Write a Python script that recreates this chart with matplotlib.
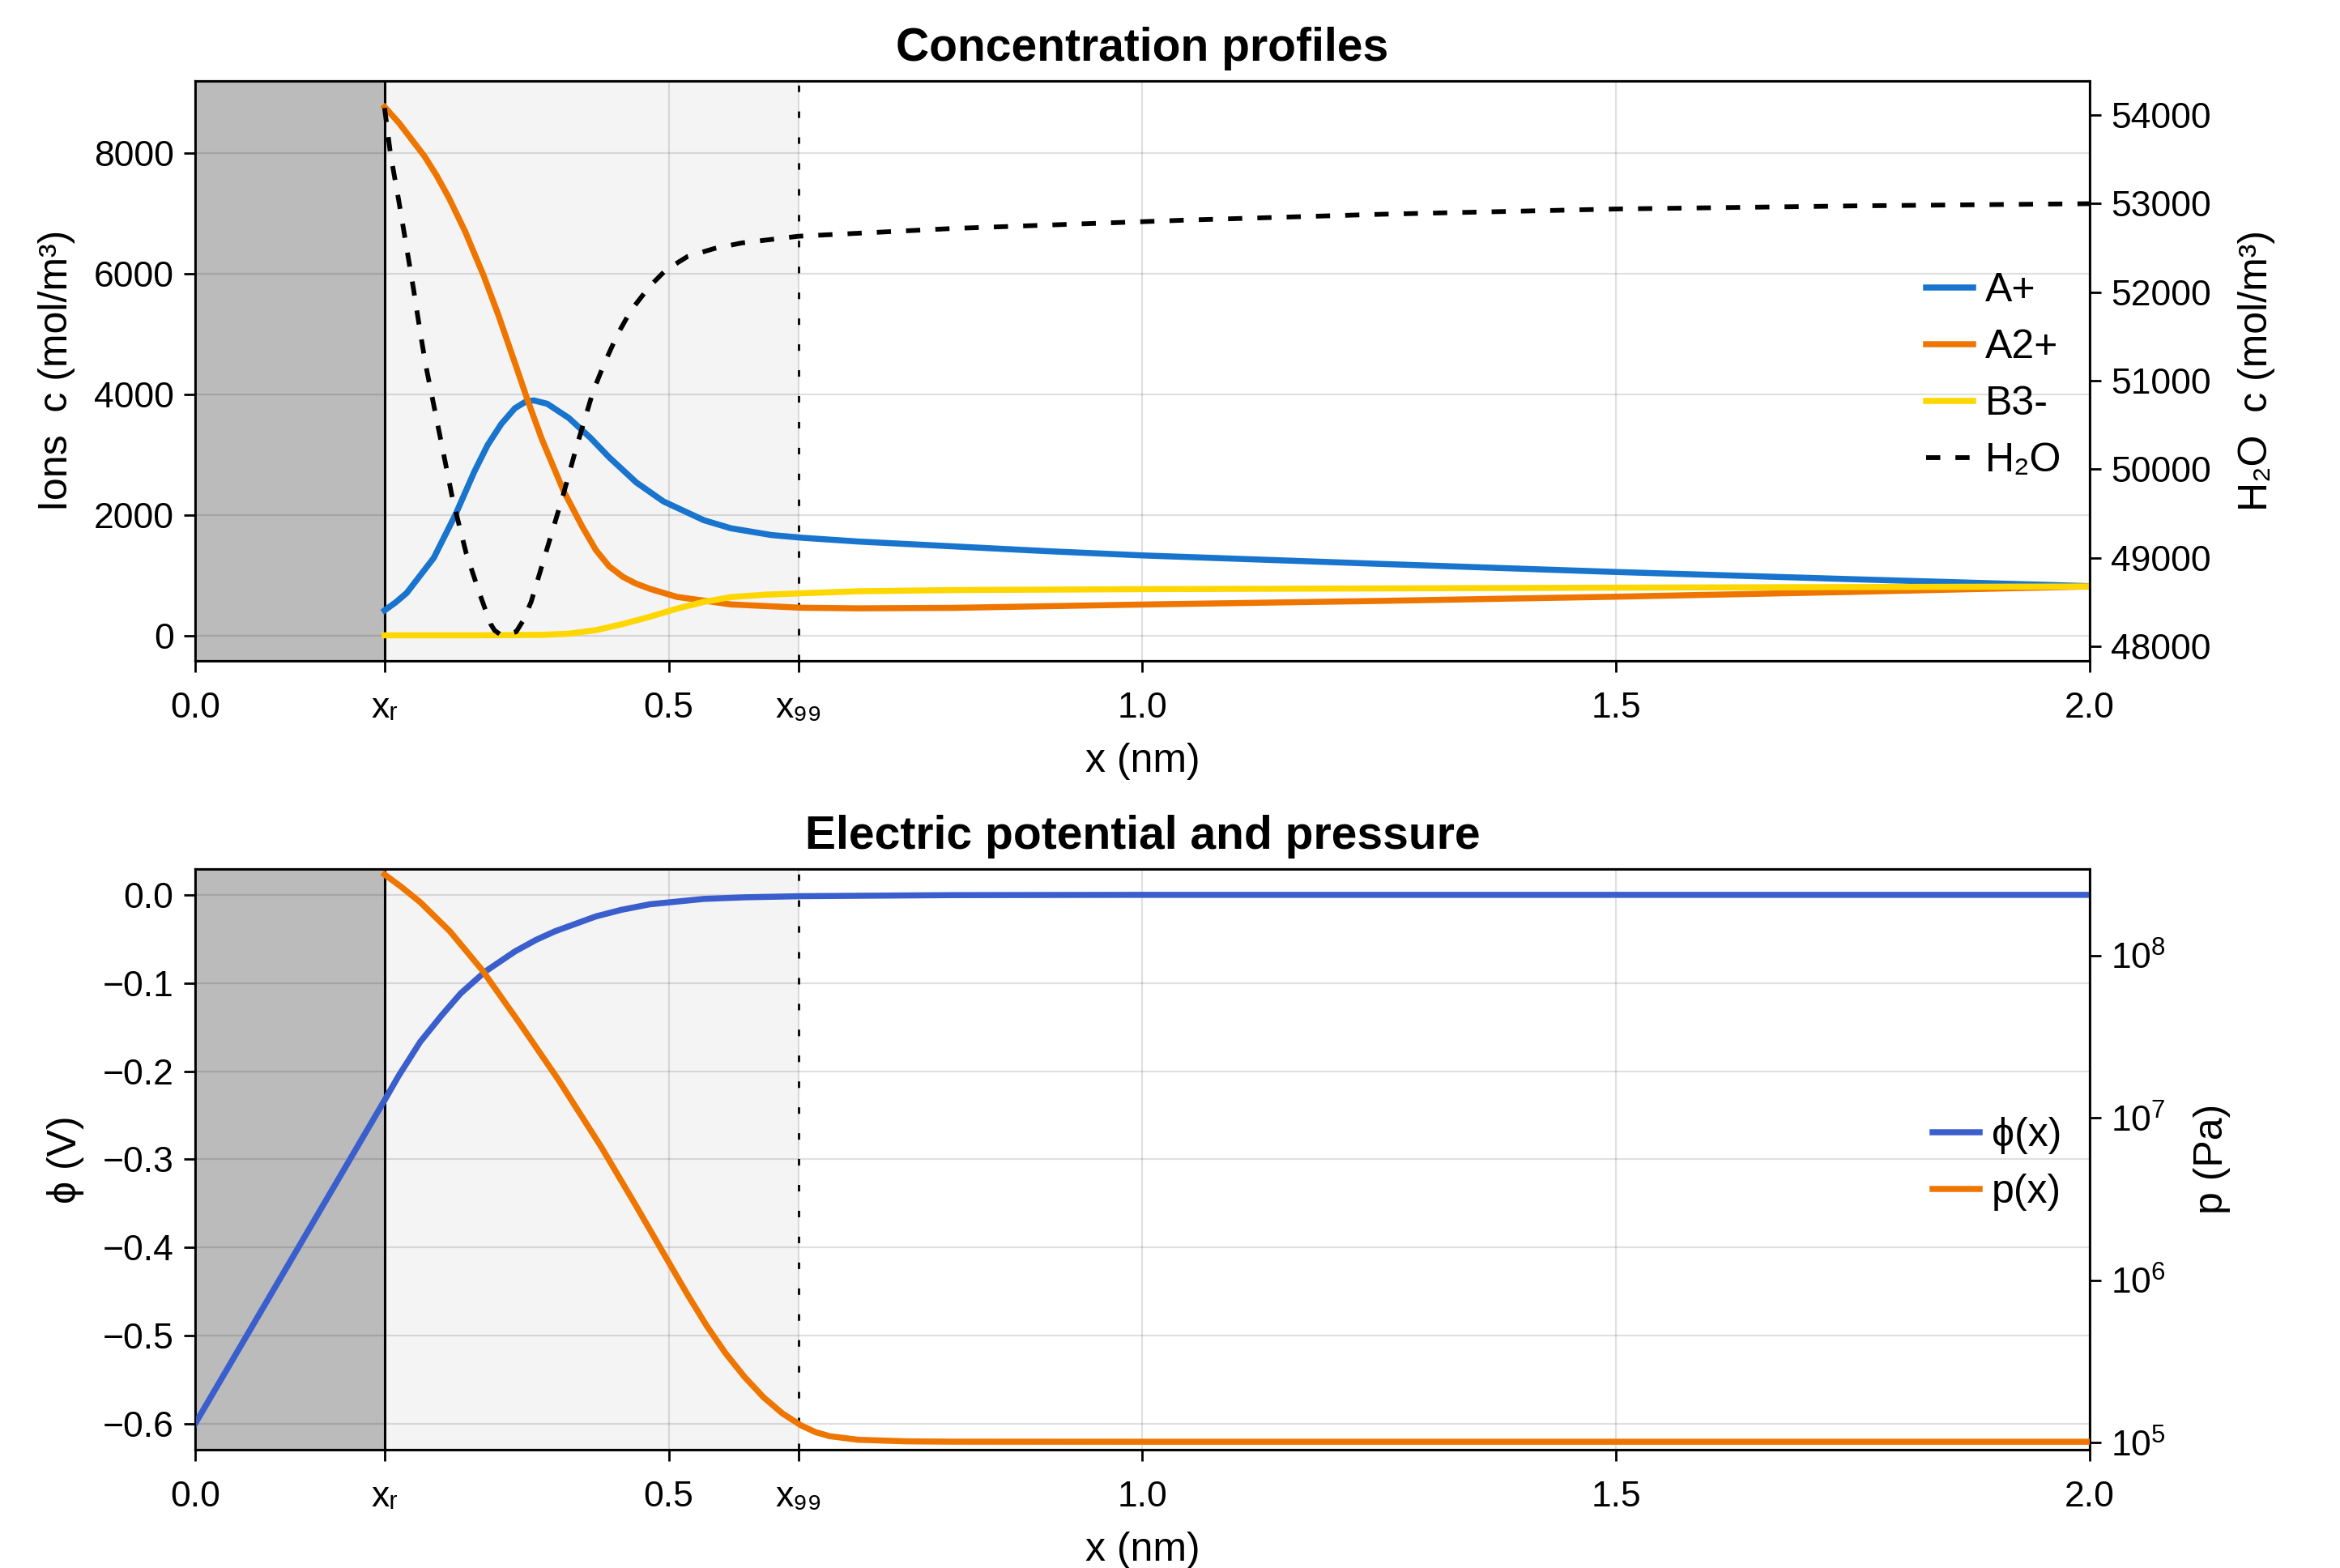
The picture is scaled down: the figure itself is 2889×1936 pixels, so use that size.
#!/usr/bin/env python

"""
    plot.py:
        - concentration profiles + electric potential / pressure near an electrode
"""

import matplotlib
matplotlib.use("Agg")
import matplotlib.pyplot as plt
from matplotlib.ticker import FixedLocator, NullLocator

plt.rcParams["font.family"] = ["Liberation Sans", "DejaVu Sans"]
plt.rcParams["mathtext.default"] = "regular"
plt.rcParams["axes.unicode_minus"] = True

################################################################################
# Data
################################################################################
x_r  = 0.2    # nm, Stern layer edge
x_99 = 0.637  # nm

x_tick_vals   = [0.0, x_r, 0.5, x_99, 1.0, 1.5, 2.0]
x_tick_labels = ["0.0", "x\u1d63", "0.5", "x\u2089\u2089", "1.0", "1.5", "2.0"]

# A+ (mol/m3)
x_Ap = [0.2, 0.212, 0.2234, 0.2519, 0.2747, 0.2947, 0.3089, 0.3232, 0.3375, 0.3489, 0.3574,
        0.3717, 0.3944, 0.4173, 0.4372, 0.4658, 0.4943, 0.537, 0.5655, 0.6083, 0.6397,
        0.7, 0.8, 0.9, 1.0, 1.25, 1.5, 1.75, 2.0]
c_Ap = [418, 555, 708, 1289, 2003, 2718, 3164, 3510, 3770, 3880, 3901,
        3845, 3610, 3280, 2955, 2539, 2226, 1914, 1780, 1668, 1624,
        1560, 1480, 1400, 1330, 1190, 1055, 935, 820]

# A2+ (mol/m3)
x_A2p = [0.2, 0.215, 0.2419, 0.255, 0.2676, 0.285, 0.3046, 0.32, 0.338, 0.3511, 0.366,
         0.3888, 0.4087, 0.423, 0.437, 0.4515, 0.465, 0.48, 0.5085, 0.5655, 0.6397, 0.7,
         0.8, 1.0, 1.25, 1.5, 1.75, 2.0]
c_A2p = [8768, 8506, 7955, 7628, 7269, 6703, 5968, 5321, 4502, 3899, 3258,
         2403, 1806, 1420, 1150, 975, 865, 776, 642, 517, 462, 452,
         460, 515, 575, 645, 725, 815]

# B3- (mol/m3)
x_B3m = [0.2, 0.3, 0.366, 0.3944, 0.423, 0.4515, 0.48, 0.5085, 0.537, 0.5655, 0.6027,
         0.6397, 0.7, 0.8, 1.0, 1.5, 2.0]
c_B3m = [5, 5, 12, 31, 90, 192, 312, 446, 558, 639, 679,
         701, 735, 755, 770, 795, 815]

# H2O (mol/m3)
x_H2O = [0.2, 0.2062, 0.2148, 0.2234, 0.2305, 0.2376, 0.2433, 0.249, 0.2605, 0.2719,
         0.2862, 0.3004, 0.3118, 0.3161, 0.3217, 0.3275, 0.3389, 0.346, 0.3546, 0.3717,
         0.3888, 0.403, 0.4201, 0.4315, 0.4457, 0.46, 0.48, 0.497, 0.5198, 0.5483,
         0.5768, 0.6367, 0.8, 1.0475, 1.25, 1.5, 1.75, 2.0]
c_H2O = [54081, 53562, 53043, 52494, 52037, 51549, 51183, 50878, 50267, 49657,
         49047, 48590, 48253, 48178, 48135, 48123, 48162, 48284, 48498, 49108,
         49718, 50267, 50878, 51183, 51519, 51793, 52068, 52251, 52403, 52494,
         52556, 52632, 52720, 52815, 52880, 52940, 52975, 53000]

# electric potential (V)
x_phi = [0.0, 0.2, 0.215, 0.2376, 0.26, 0.2804, 0.306, 0.3375, 0.36, 0.38, 0.423,
         0.45, 0.48, 0.537, 0.58, 0.64, 0.8, 1.0, 2.0]
phi   = [-0.600, -0.233, -0.205, -0.1668, -0.137, -0.1117, -0.0872, -0.0643, -0.051,
         -0.0413, -0.0245, -0.017, -0.0107, -0.0046, -0.0028, -0.0015, -0.0003, 0.0, 0.0]

# pressure (Pa)
x_p = [0.2, 0.2177, 0.2376, 0.269, 0.3032, 0.3431, 0.383, 0.4287, 0.4657, 0.497, 0.52,
       0.54, 0.56, 0.58, 0.6, 0.62, 0.64, 0.655, 0.67, 0.7, 0.75, 0.8, 1.0, 2.0]
p   = [3.167e8, 2.655e8, 2.138e8, 1.413e8, 8.13e7, 3.80e7, 1.738e7, 6.64e6, 2.864e6,
       1.384e6, 8.13e5, 5.25e5, 3.55e5, 2.54e5, 1.905e5, 1.514e5, 1.274e5, 1.161e5,
       1.096e5, 1.042e5, 1.019e5, 1.014e5, 1.013e5, 1.013e5]

################################################################################
# Styles
################################################################################
C_AP   = "#1874cd"
C_A2P  = "#ee7600"
C_B3M  = "#ffd700"
C_PHI  = "#3a5fcd"
C_P    = "#ee7600"
LW     = 2.7
FS_TK  = 16
FS_LB  = 18
FS_TT  = 20.5


def decorate(ax):
    # stern layer + diffuse layer shading, marker lines
    ax.axvspan(0.0, x_r, color="#bbbbbb", lw=0, zorder=0.1)
    ax.axvspan(x_r, x_99, color="#f4f4f4", lw=0, zorder=0.1)
    ax.axvline(x_r, color="k", lw=1.1, zorder=1.5)
    ax.axvline(x_99, color="k", lw=1.0, dashes=(2.9, 8.6), zorder=1.5)
    ax.set_xlim(0.0, 2.0)
    ax.xaxis.set_major_locator(FixedLocator(x_tick_vals))
    ax.set_xticklabels(x_tick_labels)
    ax.grid(True, color="k", alpha=0.12, lw=0.8)
    ax.set_axisbelow(True)
    ax.tick_params(axis="x", direction="out", length=5, width=1, pad=8.5, labelsize=FS_TK)
    ax.tick_params(axis="y", direction="out", length=5, width=1, pad=4.5, labelsize=FS_TK)
    ax.set_xlabel("x (nm)", fontsize=FS_LB, labelpad=8)
    for s in ax.spines.values():
        s.set_linewidth(1.0)


fig = plt.figure(figsize=(14.445, 9.68), dpi=200)

################################################################################
# Top: concentrations
################################################################################
ax1 = fig.add_axes([0.0834, 0.5785, 0.8096, 0.3701])
decorate(ax1)
l1, = ax1.plot(x_Ap,  c_Ap,  color=C_AP,  lw=LW, label="A+",  zorder=3, solid_joinstyle="round")
l2, = ax1.plot(x_A2p, c_A2p, color=C_A2P, lw=LW, label="A2+", zorder=3, solid_joinstyle="round")
l3, = ax1.plot(x_B3m, c_B3m, color=C_B3M, lw=LW, label="B3-", zorder=3, solid_joinstyle="round")
ax1.set_ylim(-420, 9205)
ax1.set_yticks([0, 2000, 4000, 6000, 8000])
ax1.set_ylabel("Ions  c (mol/m\u00b3)", fontsize=FS_LB, labelpad=8)
ax1.set_title("Concentration profiles", fontsize=FS_TT, fontweight="bold", pad=9)

ax2 = ax1.twinx()
l4, = ax2.plot(x_H2O, c_H2O, color="k", lw=2.1, dashes=(3.0, 3.2), label="H\u2082O", zorder=3)
ax2.set_ylim(47833, 54391)
ax2.set_yticks([48000, 49000, 50000, 51000, 52000, 53000, 54000])
ax2.tick_params(axis="y", direction="out", length=5, width=1, pad=4.5, labelsize=FS_TK)
ax2.set_ylabel("H\u2082O  c (mol/m\u00b3)", fontsize=FS_LB, labelpad=12)

ax2.legend(handles=[l1, l2, l3, l4], loc="center right", bbox_to_anchor=(1.0, 0.491),
           frameon=False, fontsize=FS_LB, handlelength=1.15, handletextpad=0.3,
           labelspacing=0.48, borderaxespad=0.3)

################################################################################
# Bottom: potential and pressure
################################################################################
ax3 = fig.add_axes([0.0834, 0.0754, 0.8096, 0.3706])
decorate(ax3)
l5, = ax3.plot(x_phi, phi, color=C_PHI, lw=LW, label="\u03d5(x)", zorder=3, solid_joinstyle="round")
ax3.set_ylim(-0.6296, 0.0297)
ax3.set_yticks([-0.6, -0.5, -0.4, -0.3, -0.2, -0.1, 0.0])
ax3.set_yticklabels(["\u22120.6", "\u22120.5", "\u22120.4", "\u22120.3",
                     "\u22120.2", "\u22120.1", "0.0"])
ax3.set_ylabel("\u03d5 (V)", fontsize=FS_LB, labelpad=8)
ax3.set_title("Electric potential and pressure", fontsize=FS_TT, fontweight="bold", pad=9)

ax4 = ax3.twinx()
l6, = ax4.plot(x_p, p, color=C_P, lw=LW, label="p(x)", zorder=3, solid_joinstyle="round")
ax4.set_yscale("log")
ax4.set_ylim(9.04e4, 3.44e8)
ax4.yaxis.set_major_locator(FixedLocator([1e5, 1e6, 1e7, 1e8]))
ax4.yaxis.set_minor_locator(NullLocator())
ax4.tick_params(axis="y", direction="out", length=5, width=1, pad=4.5, labelsize=FS_TK)
ax4.set_ylabel("p (Pa)", fontsize=FS_LB, labelpad=12)

ax4.legend(handles=[l5, l6], loc="center right", bbox_to_anchor=(1.0, 0.492),
           frameon=False, fontsize=FS_LB, handlelength=1.15, handletextpad=0.3,
           labelspacing=0.48, borderaxespad=0.3)

fig.savefig("out.png", dpi=200)
plt.close(fig)
